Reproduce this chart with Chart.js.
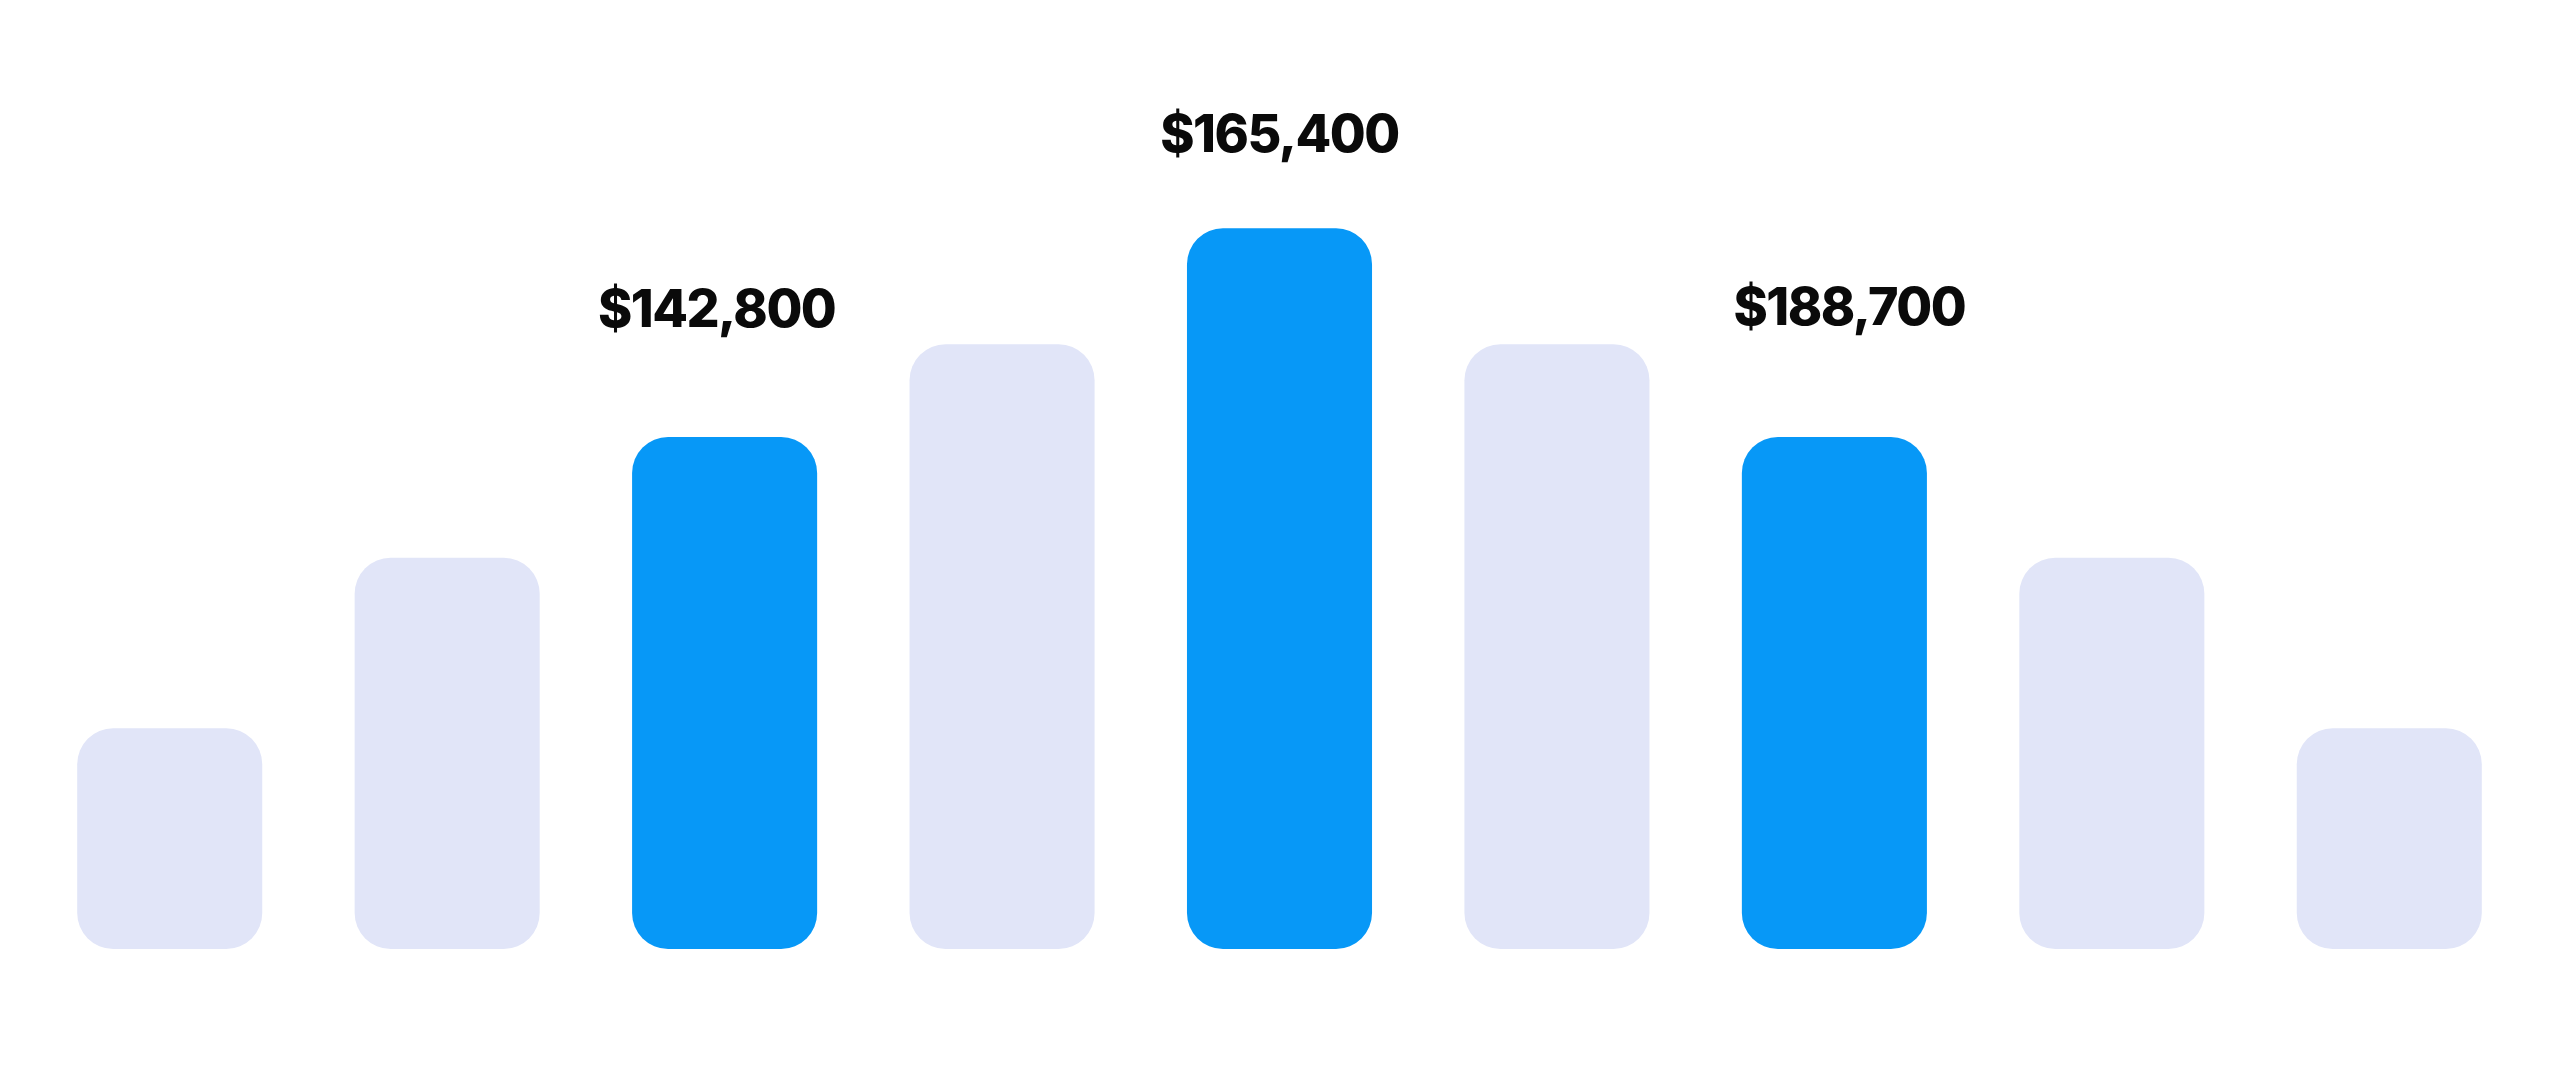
<!DOCTYPE html>
<html>
<head>
<meta charset="utf-8">
<title>Bars</title>
<script src="https://cdn.jsdelivr.net/npm/chart.js@4/dist/chart.umd.min.js"></script>
<style>
  html, body { margin: 0; padding: 0; background: #fff; }
  #wrap { width: 2560px; height: 1067px; position: relative; }
</style>
</head>
<body>
<div id="wrap"><canvas id="bars"></canvas></div>
<script>
// data (bar heights on a 0-100 scale)
var categories = ['Jan', 'Feb', 'Mar', 'Apr', 'May', 'Jun', 'Jul', 'Aug', 'Sep'];
var values = [27.6, 48.9, 64, 75.6, 90.1, 75.6, 64, 48.9, 27.6];
var valueLabels = ['', '', '$142,800', '', '$165,400', '', '$188,700', '', ''];
var highlighted = [false, false, true, false, true, false, true, false, false];

var blue = '#0798F7';
var pale = '#E1E5F8';

// draws the money labels above the highlighted bars
var topLabels = {
    id: 'topLabels',
    afterDatasetsDraw: function (chart, args, opts) {
        var ctx = chart.ctx;
        var meta = chart.getDatasetMeta(0);
        ctx.save();
        ctx.font = opts.font;
        ctx.fillStyle = opts.color;
        ctx.textAlign = 'center';
        ctx.textBaseline = 'alphabetic';
        if ('letterSpacing' in ctx) ctx.letterSpacing = opts.spacing;
        meta.data.forEach(function (bar, i) {
            if (!valueLabels[i]) return;
            var gap = opts.gaps[i] || 100;
            var dx = opts.shifts[i] || 0;
            ctx.fillText(valueLabels[i], bar.x + dx, bar.y - gap);
        });
        ctx.restore();
    }
};

var ctx = document.getElementById('bars').getContext('2d');
var chart = new Chart(ctx, {
    type: 'bar',
    data: {
        labels: categories,
        datasets: [{
            data: values,
            backgroundColor: highlighted.map(function (h) { return h ? blue : pale; }),
            borderRadius: 36,
            borderSkipped: false,
            barPercentage: 0.667,
            categoryPercentage: 1
        }]
    },
    options: {
        responsive: true,
        maintainAspectRatio: false,
        animation: false,
        layout: { padding: { left: 31, right: 32, top: 149, bottom: 118 } },
        scales: {
            x: { display: false, offset: true },
            y: { display: false, min: 0, max: 100 }
        },
        plugins: {
            legend: { display: false },
            tooltip: { enabled: false },
            topLabels: {
                font: '800 52px Inter',
                spacing: '-1.5px',
                color: '#0a0a0a',
                gaps: { 2: 110, 4: 76, 6: 112 },
                shifts: { 2: -8, 6: 15 }
            }
        }
    },
    plugins: [topLabels]
});
</script>
</body>
</html>
